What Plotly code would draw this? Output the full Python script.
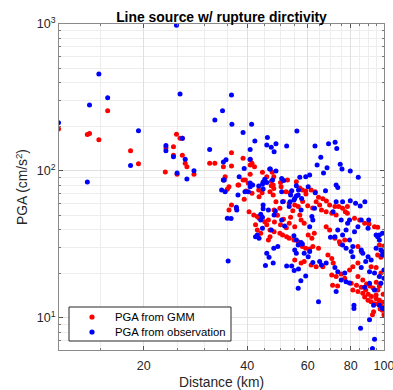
import numpy as np
import plotly.graph_objects as go

# PGA from GMM (red)
gmm_dist = [11.3, 13.7, 13.9, 15.7, 14.8, 18.3, 19.3, 24.9, 25.5, 25.9, 23.2, 24.4, 24.4, 25.9, 26.4, 26.7, 23.1, 25.0, 28.0,
            36.0, 31.1, 32.2, 34.1, 36.0, 38.9, 40.8, 41.3, 40.8, 42.0, 44.3, 45.6, 47.3, 47.8, 47.0, 47.8, 46.6, 47.6,
            55.6, 57.9, 59.2, 61.4, 63.1, 64.5, 66.4, 68.0, 69.5, 72.0, 73.9, 75.8, 77.2, 78.3, 78.3, 70.5, 72.6,
            82.1, 85.0, 87.9, 90.5, 93.9, 95.9, 67.9, 69.5, 97.0, 100.0, 95.9, 98.0, 84.0, 85.9, 74.6, 76.9, 72.0, 74.2,
            48.5, 49.8, 47.9, 40.5, 41.8, 42.8, 43.3, 45.0, 45.6, 46.1, 42.3, 42.8, 43.8, 46.6, 47.9, 49.8, 50.7, 52.1,
            53.0, 54.7, 56.3, 57.9, 59.2, 60.8, 62.1, 64.5, 60.2, 61.7, 62.7, 57.4, 58.6, 56.9, 55.0, 56.3, 54.3, 53.5,
            55.0, 39.7, 41.3, 43.3, 65.8, 67.9, 63.5, 65.0, 35.0, 35.4, 34.1, 34.5, 39.2, 35.4, 36.0, 37.6, 38.9, 40.3,
            55.0, 57.4, 58.6, 61.4, 63.5, 66.4, 68.7, 70.5, 71.2, 70.5, 72.6, 75.1, 76.9, 70.9, 73.3, 80.3, 83.2, 85.9,
            81.2, 84.0, 86.8, 87.9, 89.9, 91.8, 93.9, 94.9, 97.0, 98.0, 99.0, 100.0, 91.8, 94.9, 98.0, 84.0, 86.8, 79.4,
            81.2, 84.0, 92.6, 93.3, 37.2, 46.6, 46.1, 43.2, 44.2, 50.2, 51.9, 50.0, 52.4, 59.3, 56.9, 53.3, 47.0, 47.6,
            37.8, 39.5, 40.8,
            88.5, 90.0, 92.0, 95.0, 96.0, 97.5, 99.0, 100.0, 93.0, 96.0, 89.0, 91.0, 99.5, 95.0, 97.0,
            44.0, 48.0, 50.0, 52.0, 53.0, 51.0, 49.0, 51.0, 53.0, 58.0, 60.0, 62.0]
gmm_pga = [193, 177, 180, 257, 163, 137, 112, 178, 167, 167, 144, 146, 128, 128, 113, 107, 98.5, 95, 95,
           133, 113, 113, 107, 108, 122, 119, 113, 110, 107, 98, 91.5, 98, 91.5, 79.3, 76, 72.3, 68.7,
           84.6, 74.2, 73, 74.2, 72.3, 66.2, 64.6, 62.5, 58.7, 57.2, 57.2, 55.7, 52.8, 57.2, 51.5, 51.5, 50.2,
           47.7, 46.4, 44.1, 43.6, 41.8, 41.4, 41.8, 39.7, 31.4, 30.9, 26.8, 25.9, 30.6, 28.3, 31.9, 33.9, 34.9, 33.0,
           61.8, 55.7, 54.3, 52.8, 50.2, 48.9, 47.7, 45.2, 43.0, 46.4, 43.0, 39.7, 37.7, 39.7, 38.6, 37.7, 36.7, 35.7,
           34.9, 33.9, 33.0, 30.6, 29.8, 29.4, 30.6, 29.8, 36.7, 34.9, 37.7, 46.4, 44.1, 50.2, 58.7, 57.2, 53.7, 48.4,
           41.8, 73.0, 70.5, 66.8, 54.3, 52.8, 61.8, 58.7, 75.0, 78.0, 86.9, 91.5, 64.3, 54.3, 58.7, 80.3, 86.9, 82.4,
           24.8, 23.6, 24.2, 22.9, 22.3, 22.3, 26.8, 25.4, 23.6, 19.6, 19.1, 19.9, 18.6, 16.7, 16.5, 17.2, 16.7, 16.2,
           15.5, 15.1, 14.7, 13.9, 13.2, 12.9, 12.5, 14.3, 13.2, 12.2, 11.3, 10.5, 22.3, 22.0, 20.2, 19.1, 18.1, 21.2,
           22.3, 23.6, 10.5, 11.0, 55.7, 35.7, 33.9, 74.2, 71.1, 78.0, 72.3, 83.4, 86.9, 69.8, 76.5, 71.1, 85.0, 80.3,
           80.3, 86.9, 95.0,
           15.5, 14.5, 14.0, 13.5, 12.5, 11.5, 12.8, 11.8, 16.0, 15.5, 17.0, 16.5, 14.5, 17.5, 16.5,
           49.0, 45.0, 43.0, 41.0, 44.0, 47.0, 50.0, 62.0, 60.0, 62.0, 58.0, 56.0]

# PGA from observation (blue)
obs_dist = [11.3, 14.8, 13.9, 15.7, 13.7, 19.3, 18.3, 24.9, 25.5, 25.9, 23.2, 23.2, 24.4, 26.4, 25.0, 26.7, 28.0,
            36.0, 33.9, 32.2, 36.1, 38.9, 41.2, 42.1, 45.8, 45.6, 47.0, 48.5, 47.9, 52.1, 55.8, 31.1, 40.8, 34.7, 34.1,
            40.8, 39.2, 46.5, 48.5, 63.0, 69.0, 72.1, 72.9, 65.5, 63.9, 68.3, 66.7, 74.6, 75.5, 79.8, 84.2, 60.8, 59.2,
            56.9, 45.0, 44.5, 47.4, 43.2, 44.5, 50.4, 51.1, 55.6, 56.4, 60.2, 72.6, 75.8, 79.8, 82.7, 88.0, 85.3, 71.1,
            79.4, 85.9, 90.3, 89.9, 94.9, 84.0, 82.1, 75.1, 78.4, 73.4, 75.8, 77.6, 69.9, 72.0, 95.9, 97.0, 94.9, 98.0,
            99.0, 85.9, 86.8, 89.9, 81.2, 80.3, 81.2, 75.8, 77.6, 79.4, 50.7, 53.3, 54.7, 53.0, 55.6, 48.3, 47.9, 46.1,
            43.8, 44.3, 43.8, 44.3, 47.0, 42.3, 43.3, 42.8, 54.7, 55.6, 57.4, 57.9, 56.3, 55.0, 55.6, 58.6, 60.2, 60.8,
            60.8, 62.1, 61.7, 57.4, 57.6, 55.0, 56.3, 50.4, 51.4, 44.5, 44.5, 62.8, 33.7, 34.5, 34.3, 37.6, 39.4, 40.3,
            37.2, 37.3, 35.0, 35.9, 35.2, 40.8, 41.5, 45.6, 46.3, 47.6, 45.2, 47.8, 49.1, 52.1, 53.9, 54.8, 56.4, 59.2,
            57.3, 56.3, 62.1, 65.0, 65.8, 67.9, 72.0, 75.1, 77.6, 79.4, 72.6, 64.5, 87.9, 90.8, 93.9, 97.0, 99.0, 81.8,
            81.8, 97.0, 98.0, 100.0, 90.8, 93.9, 100.0, 85.9, 88.5, 91.8, 73.4, 76.9, 85.5, 90.8, 93.9, 92.6, 93.3,
            100.0, 72.6, 73.4, 63.1, 67.6, 46.7, 45.6, 44.3, 40.8, 37.9, 34.1, 50.4, 53.9, 53.5, 97.0, 99.0, 99.0]
obs_pga = [213, 457, 281, 315, 84, 188, 109, 980, 334, 167, 149, 137, 125, 120, 97, 88, 100.5,
           329, 257, 222, 208, 183, 208, 160, 169, 150, 145, 153, 135, 148, 187, 140, 140, 119, 115,
           120, 104, 103, 100, 148, 153, 157, 142, 124, 110, 105, 97, 111, 103, 100, 90.6, 94, 91.5,
           90.6, 87.7, 84, 86.9, 79, 75.5, 89, 86, 79.3, 74.2, 78, 61.8, 61.8, 62.8, 60.3, 61.8, 57.8, 52.8,
           46.4, 46.4, 46.4, 40.8, 36.7, 41.8, 38.6, 46.4, 44.1, 39.7, 36.7, 39.7, 35.4, 35.7, 35.7, 33.9, 29.8, 29.0,
           26.8, 29.0, 27.5, 26.1, 30.6, 28.3, 26.1, 31.4, 29.8, 33.9, 61.8, 61.8, 63.5, 57.2, 67.6, 53.4, 50.2, 54.3,
           50.7, 48.4, 46.4, 40.8, 39.7, 35.7, 34.9, 36.7, 36.2, 33.9, 32.6, 31.9, 31.4, 29.0, 27.5, 27.5, 26.1, 28.3,
           41.8, 46.4, 48.9, 54.3, 65.0, 65.0, 68.7, 46.4, 42.3, 58.7, 55.4, 55.7, 74.2, 72.3, 86.9, 68.7, 72.3, 72.3,
           56.7, 54.3, 47.7, 47.4, 24.4, 78, 80.3, 27.5, 25.9, 23.6, 22.7, 29.8, 30.6, 22.6, 22.6, 21.0, 21.5, 19.3,
           17.9, 15.9, 23.8, 24.2, 22.9, 23.6, 22.0, 18.1, 17.6, 17.3, 15.1, 12.9, 16.2, 17.2, 15.5, 12.2, 11.6, 12.2,
           11.6, 19.1, 17.2, 18.6, 20.6, 20.2, 21.2, 22.0, 24.2, 24.8, 20.6, 20.2, 8.5, 9.7, 7.17, 6.2, 12.2,
           11.6, 80.3, 77.1, 71.1, 73.2, 103, 83.4, 81.3, 82.8, 91.5, 86.9, 72.3, 73.2, 68.7, 36.7, 37.7, 28.3]

series_names = ["PGA from GMM", "PGA from observation"]
series_colors = ["#ff0000", "#0000ff"]

x_major = [20, 40, 60, 80, 100]
x_minor = [15, 25, 30, 35, 45, 50, 55, 65, 70, 75, 85, 90, 95]
y_major = [10, 100, 1000]
y_major_text = ["10<sup>1</sup>", "10<sup>2</sup>", "10<sup>3</sup>"]
y_minor = [7, 8, 9, 20, 30, 40, 50, 60, 70, 80, 90, 200, 300, 400, 500, 600, 700, 800, 900]

FONT = "Liberation Sans, Arial, Helvetica, sans-serif"
TXT = "#262626"
MS = 5

fig = go.Figure()
for xs, ys, nm, col in [(gmm_dist, gmm_pga, series_names[0], series_colors[0]),
                        (obs_dist, obs_pga, series_names[1], series_colors[1])]:
    fig.add_trace(go.Scatter(x=xs, y=ys, mode="markers", name=nm, showlegend=False,
                             marker=dict(color=col, size=MS, line=dict(width=0))))

axis_common = dict(
    type="log", ticks="inside", ticklen=4, tickcolor="#555555", mirror="allticks",
    showline=True, linecolor="#8a8a8a", linewidth=1, automargin=False,
    showgrid=True, gridcolor="#e0e0e0", gridwidth=1, zeroline=False,
    tickfont=dict(family=FONT, size=12.5, color=TXT),
)

fig.update_xaxes(
    **axis_common,
    range=[np.log10(11.33), np.log10(100.05)],
    tickmode="array", tickvals=x_major, ticktext=[str(v) for v in x_major],
    ticklabelstandoff=4, ticklabeloverflow="allow",
    minor=dict(tickmode="array", tickvals=x_minor, ticks="inside", ticklen=2, tickcolor="#777777",
               showgrid=True, gridcolor="#ededed"),
    title=dict(text="Distance (km)", font=dict(family=FONT, size=13.8, color=TXT), standoff=9),
)
fig.update_yaxes(
    **axis_common,
    range=[np.log10(6.05), 3],
    tickmode="array", tickvals=y_major, ticktext=y_major_text,
    minor=dict(tickmode="array", tickvals=y_minor, ticks="inside", ticklen=2, tickcolor="#777777",
               showgrid=True, gridcolor="#ededed"),
    title=dict(text="PGA (cm/s<sup>2</sup>)", font=dict(family=FONT, size=13.8, color=TXT), standoff=5),
)

# legend box drawn in plot-area (paper) coordinates, like MATLAB's legend
W, H = 325.0, 326.0
def px_x(p):
    return (p - 59) / W
def px_y(p):
    return (350 - p) / H

fig.add_shape(type="rect", xref="paper", yref="paper",
              x0=px_x(69), x1=px_x(231), y0=px_y(341), y1=px_y(307),
              line=dict(color="#262626", width=1), fillcolor="white", layer="above")
rows_y = [317, 332]
for nm, col, ry in zip(series_names, series_colors, rows_y):
    r = 2.6
    fig.add_shape(type="circle", xref="paper", yref="paper",
                  x0=px_x(92 - r), x1=px_x(92 + r), y0=px_y(ry + r), y1=px_y(ry - r),
                  line=dict(width=0), fillcolor=col, layer="above")
    fig.add_annotation(text=nm, xref="paper", yref="paper", x=px_x(113), y=px_y(ry),
                       xanchor="left", yanchor="middle", showarrow=False,
                       font=dict(family=FONT, size=11.3, color="#000000"))

fig.update_layout(
    width=393, height=390,
    margin=dict(l=59, r=9, t=24, b=40, autoexpand=False),
    paper_bgcolor="white", plot_bgcolor="white",
    title=dict(text="<b>Line source w/ rupture dirctivity</b>", x=0.5, xref="paper",
               y=1 - 17 / 390, yref="container", yanchor="middle",
               font=dict(family=FONT, size=13.9, color="#000000")),
    showlegend=False,
)

fig.write_html("out.html")
